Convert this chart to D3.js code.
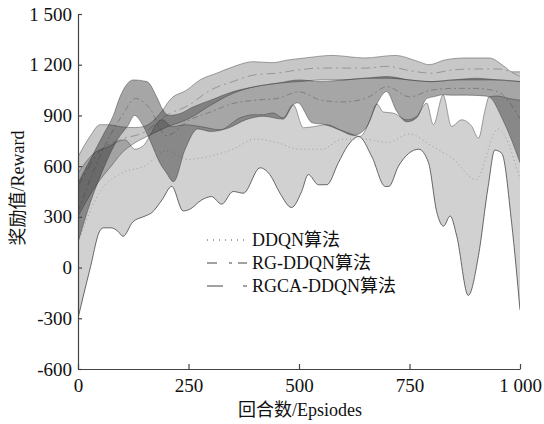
<!DOCTYPE html>
<html>
<head>
<meta charset="UTF-8">
<title>Reward</title>
<style>
  body { margin: 0; background: #fff; }
</style>
</head>
<body>
<div id="chart"></div>
<script src="https://cdn.jsdelivr.net/npm/d3@7"></script>
<script>
// ticks
const xTicks = [0, 250, 500, 750, 1000];
const yTicks = [-600, -300, 0, 300, 600, 900, 1200, 1500];

// DDQN band [episode, reward]
const ddqnLower = [[0,-300],[27,-10],[50,220],[58,235],[75,235],[90,215],[102,185],[124,270],[152,305],[167,325],[190,400],[212,480],[238,335],[253,345],[280,400],[302,420],[325,375],[351,450],[374,440],[412,590],[434,550],[457,440],[483,355],[506,450],[521,550],[544,490],[563,490],[589,620],[610,720],[635,775],[665,655],[695,480],[703,480],[725,600],[771,700],[793,620],[812,325],[827,245],[842,305],[857,185],[883,-165],[906,70],[928,480],[943,695],[959,675],[981,265],[1000,-250]];
const ddqnUpper = [[0,560],[38,680],[68,715],[106,756],[129,700],[145,715],[190,875],[213,833],[242,845],[280,833],[321,815],[367,886],[396,904],[419,904],[441,915],[464,885],[487,963],[510,827],[536,835],[563,845],[593,815],[623,786],[638,776],[661,874],[676,968],[691,920],[713,914],[744,874],[766,894],[789,973],[804,845],[826,1020],[845,835],[868,874],[891,835],[906,766],[921,933],[930,1010],[950,1015],[975,1000],[1000,990]];
const ddqnMean = [[0,150],[50,450],[100,560],[150,600],[200,690],[250,640],[300,660],[350,700],[400,760],[450,740],[500,700],[550,700],[600,760],[650,760],[700,740],[750,790],[800,720],[850,640],[900,520],[950,820],[1000,520]];

// RG-DDQN band
const rgLower = [[0,150],[30,400],[60,600],[90,760],[113,840],[128,900],[147,840],[165,740],[185,620],[200,560],[216,508],[242,697],[271,820],[300,805],[340,825],[380,875],[420,895],[464,878],[487,963],[497,975],[530,856],[560,845],[593,812],[623,782],[650,820],[676,968],[698,1041],[721,925],[744,862],[766,885],[789,1000],[804,1010],[826,1022],[845,1020],[880,1020],[920,1015],[930,1010],[960,880],[980,760],[1000,620]];
const rgUpper = [[0,500],[30,650],[60,800],[80,900],[95,1010],[125,1110],[156,1100],[178,1010],[192,933],[205,900],[230,910],[260,950],[300,990],[350,1040],[400,1070],[450,1090],[500,1110],[550,1100],[600,1110],[650,1120],[700,1130],[750,1110],[800,1100],[850,1110],[900,1120],[950,1110],[1000,1100]];
const rgMean = [[0,330],[50,660],[100,900],[130,1000],[160,950],[200,780],[250,870],[300,920],[350,970],[400,990],[450,1000],[500,1040],[550,990],[600,980],[650,1000],[700,1070],[750,1010],[800,1050],[850,1060],[900,1060],[950,1040],[1000,880]];

// RGCA-DDQN band
const rgcaLower = [[0,300],[25,420],[50,520],[75,600],[100,680],[130,740],[160,780],[200,830],[250,880],[300,960],[350,1030],[400,1070],[450,1090],[500,1100],[550,1110],[600,1110],[650,1120],[700,1120],[750,1110],[800,1100],[850,1110],[900,1110],[950,1110],[1000,1100]];
const rgcaUpper = [[0,655],[27,775],[50,845],[68,845],[100,832],[130,828],[150,835],[175,880],[192,933],[208,992],[246,1050],[276,1110],[314,1150],[351,1188],[396,1218],[439,1212],[475,1228],[514,1240],[575,1255],[649,1240],[717,1255],[771,1218],[794,1200],[830,1228],[876,1240],[930,1240],[966,1187],[982,1158],[1000,1158]];
const rgcaMean = [[0,480],[50,690],[100,760],[150,800],[200,900],[250,960],[300,1050],[350,1100],[400,1140],[450,1150],[500,1170],[550,1180],[600,1180],[650,1180],[700,1190],[750,1165],[800,1150],[850,1170],[900,1175],[950,1175],[1000,1130]];

const legendNames = ["DDQN算法", "RG-DDQN算法", "RGCA-DDQN算法"];

const FONT = "'Liberation Serif', 'Noto Sans CJK SC', serif";
const W = 544, H = 424;
const x = d3.scaleLinear().domain([0, 1000]).range([78, 520]);
const y = d3.scaleLinear().domain([-600, 1500]).range([369, 14]);

const svg = d3.select("#chart").append("svg")
  .attr("width", W).attr("height", H);

svg.append("clipPath").attr("id", "plot")
  .append("rect").attr("x", 78).attr("y", 0).attr("width", 442).attr("height", 369);

const line = d3.line()
  .x(d => x(d[0])).y(d => y(d[1]))
  .curve(d3.curveMonotoneX);

// band outline: upper edge forward, lower edge back
function bandPath(lo, hi) {
  const top = line(hi);
  const bottom = line(lo.slice().reverse());
  return top + "L" + bottom.slice(1) + "Z";
}

const g = svg.append("g").attr("clip-path", "url(#plot)");

const bands = [
  { lo: ddqnLower, hi: ddqnUpper, op: 0.18 },
  { lo: rgLower, hi: rgUpper, op: 0.35 },
  { lo: rgcaLower, hi: rgcaUpper, op: 0.22 }
];

g.selectAll("path.band").data(bands).enter().append("path")
  .attr("class", "band")
  .attr("d", d => bandPath(d.lo, d.hi))
  .attr("fill", "#000")
  .attr("fill-opacity", d => d.op)
  .attr("stroke", "none");

// edges
[ddqnLower, ddqnUpper, rgLower, rgUpper, rgcaLower, rgcaUpper].forEach((arr, i) => {
  g.append("path").attr("d", line(arr))
    .attr("fill", "none")
    .attr("stroke", "#333")
    .attr("stroke-opacity", i === 0 ? 0.9 : 0.55)
    .attr("stroke-width", 0.8);
});

// mean lines
const dashes = ["1,3", "6,3,2,3", "9,4,2,4"];
[ddqnMean, rgMean, rgcaMean].forEach((arr, i) => {
  g.append("path").attr("d", line(arr))
    .attr("fill", "none")
    .attr("stroke", "#333")
    .attr("stroke-opacity", 0.42)
    .attr("stroke-width", 0.8)
    .attr("stroke-dasharray", dashes[i]);
});

// axes
const fmt = d => Math.abs(d) >= 1000 ? String(d).replace(/(\d)(\d{3})$/, "$1 $2") : String(d);

const xAxis = svg.append("g")
  .attr("transform", "translate(0,369)")
  .call(d3.axisBottom(x).tickValues(xTicks).tickFormat(fmt).tickSizeInner(-5).tickSizeOuter(0).tickPadding(10));
const yAxis = svg.append("g")
  .attr("transform", "translate(78,0)")
  .call(d3.axisLeft(y).tickValues(yTicks).tickFormat(fmt).tickSizeInner(-4).tickSizeOuter(0).tickPadding(6));

[xAxis, yAxis].forEach(a => {
  a.attr("font-family", FONT).attr("font-size", 19);
  a.select(".domain").attr("stroke", "#444").attr("stroke-width", 1.2);
  a.selectAll(".tick line").attr("stroke", "#444").attr("stroke-width", 1.2);
  a.selectAll("text").attr("fill", "#111");
});

svg.append("text")
  .attr("x", 300).attr("y", 416)
  .attr("text-anchor", "middle").attr("font-size", 18)
  .attr("font-family", FONT).attr("fill", "#111")
  .text("回合数/Epsiodes");

svg.append("text")
  .attr("transform", "translate(24,188) rotate(-90)")
  .attr("text-anchor", "middle").attr("font-size", 18)
  .attr("font-family", FONT).attr("fill", "#111")
  .text("奖励值/Reward");

// legend
const legY = [240, 263, 286];
const legend = svg.append("g");
legendNames.forEach((name, i) => {
  legend.append("line")
    .attr("x1", 207).attr("x2", 247)
    .attr("y1", legY[i]).attr("y2", legY[i])
    .attr("stroke", "#444").attr("stroke-width", 1)
    .attr("stroke-dasharray", ["1,5", "10,12,3,6,10", "16,20,4"][i]);
  legend.append("text")
    .attr("x", 252).attr("y", legY[i] + 6)
    .attr("font-size", 18)
    .attr("font-family", FONT).attr("fill", "#111")
    .text(name);
});
</script>
</body>
</html>
